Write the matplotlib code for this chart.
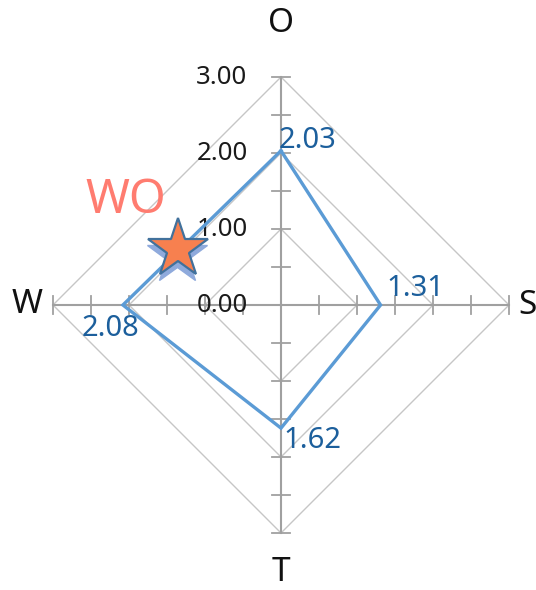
import numpy as np
import matplotlib
matplotlib.use('Agg')
import matplotlib.pyplot as plt
from matplotlib.transforms import offset_copy

plt.rcParams['font.family'] = ['Noto Sans', 'DejaVu Sans']

# data
categories = ['O', 'S', 'T', 'W']
angles_deg = [90, 0, -90, 180]
values = [2.03, 1.31, 1.62, 2.08]
value_labels = ['2.03', '1.31', '1.62', '2.08']
grid_levels = [1, 2, 3]
tick_values = [0, 1, 2, 3]
tick_labels = ['0.00', '1.00', '2.00', '3.00']
star_label = 'WO'
star_xy = (-1.35, 0.74)

ang = np.deg2rad(angles_deg)
ux, uy = np.cos(ang), np.sin(ang)

fig = plt.figure(figsize=(5.36, 5.9), dpi=100)
ax = fig.add_axes([0, 0, 1, 1])
ax.set_xlim(-281 / 76, (536 - 281) / 76)
ax.set_ylim((305 - 590) / 76, 305 / 76)
ax.set_aspect('equal')
ax.axis('off')

rmax = grid_levels[-1]

# grid diamonds
for lv in grid_levels:
    gx = np.append(ux * lv, ux[0] * lv)
    gy = np.append(uy * lv, uy[0] * lv)
    ax.plot(gx, gy, color='#c6c6c6', lw=1.0, zorder=1)

# axes with tick crossbars
for cx, cy in zip(ux, uy):
    ax.plot([0, cx * rmax], [0, cy * rmax], color='#a0a0a0', lw=1.5, zorder=2)
    for t in np.arange(0.5, rmax + 0.01, 0.5):
        px, py = cx * t, cy * t
        h = 0.12
        ax.plot([px - cy * h, px + cy * h], [py - cx * h, py + cx * h],
                color='#a0a0a0', lw=1.3, zorder=2)

# radial tick labels
for tv, tl in zip(tick_values, tick_labels):
    ax.text(-0.44, tv, tl, ha='right', va='center', fontsize=18.5, color='#1a1a1a')

# category labels
cat_dist = [3.70, 3.24, 3.52, 3.34]
for cx, cy, c, d in zip(ux, uy, categories, cat_dist):
    ax.text(cx * d, cy * d, c, ha='center', va='center', fontsize=24, color='#111111')

# series
vx = np.append(ux * values, ux[0] * values[0])
vy = np.append(uy * values, uy[0] * values[0])
ax.plot(vx, vy, color='#5b9bd5', lw=2.4, zorder=4, solid_joinstyle='miter')

# value labels (offset in points from each vertex)
label_offsets = [(-2, 7, 'left'), (4, 12, 'left'), (2, -9, 'left'), (-9, -17, 'center')]
for x, y, txt, (dx, dy, ha) in zip(ux * values, uy * values, value_labels, label_offsets):
    ax.annotate(txt, (x, y), xytext=(dx, dy), textcoords='offset points',
                ha=ha, va='center', fontsize=21, color='#1c5f9c', zorder=5)

# star marker with shadow
shadow_tr = offset_copy(ax.transData, fig=fig, x=-1, y=-6, units='dots')
ax.plot(*star_xy, marker='*', markersize=45, color='#8faadc', mec='#8faadc',
        transform=shadow_tr, zorder=6)
ax.plot(*star_xy, marker='*', markersize=45, color='#f7804f', mec='#41719c',
        mew=1.6, zorder=7)
ax.text(star_xy[0] - 0.69, star_xy[1] + 0.64, star_label, ha='center', va='center',
        fontsize=34, color='#ff7c70', zorder=7)

fig.savefig('out.png', dpi=100)
